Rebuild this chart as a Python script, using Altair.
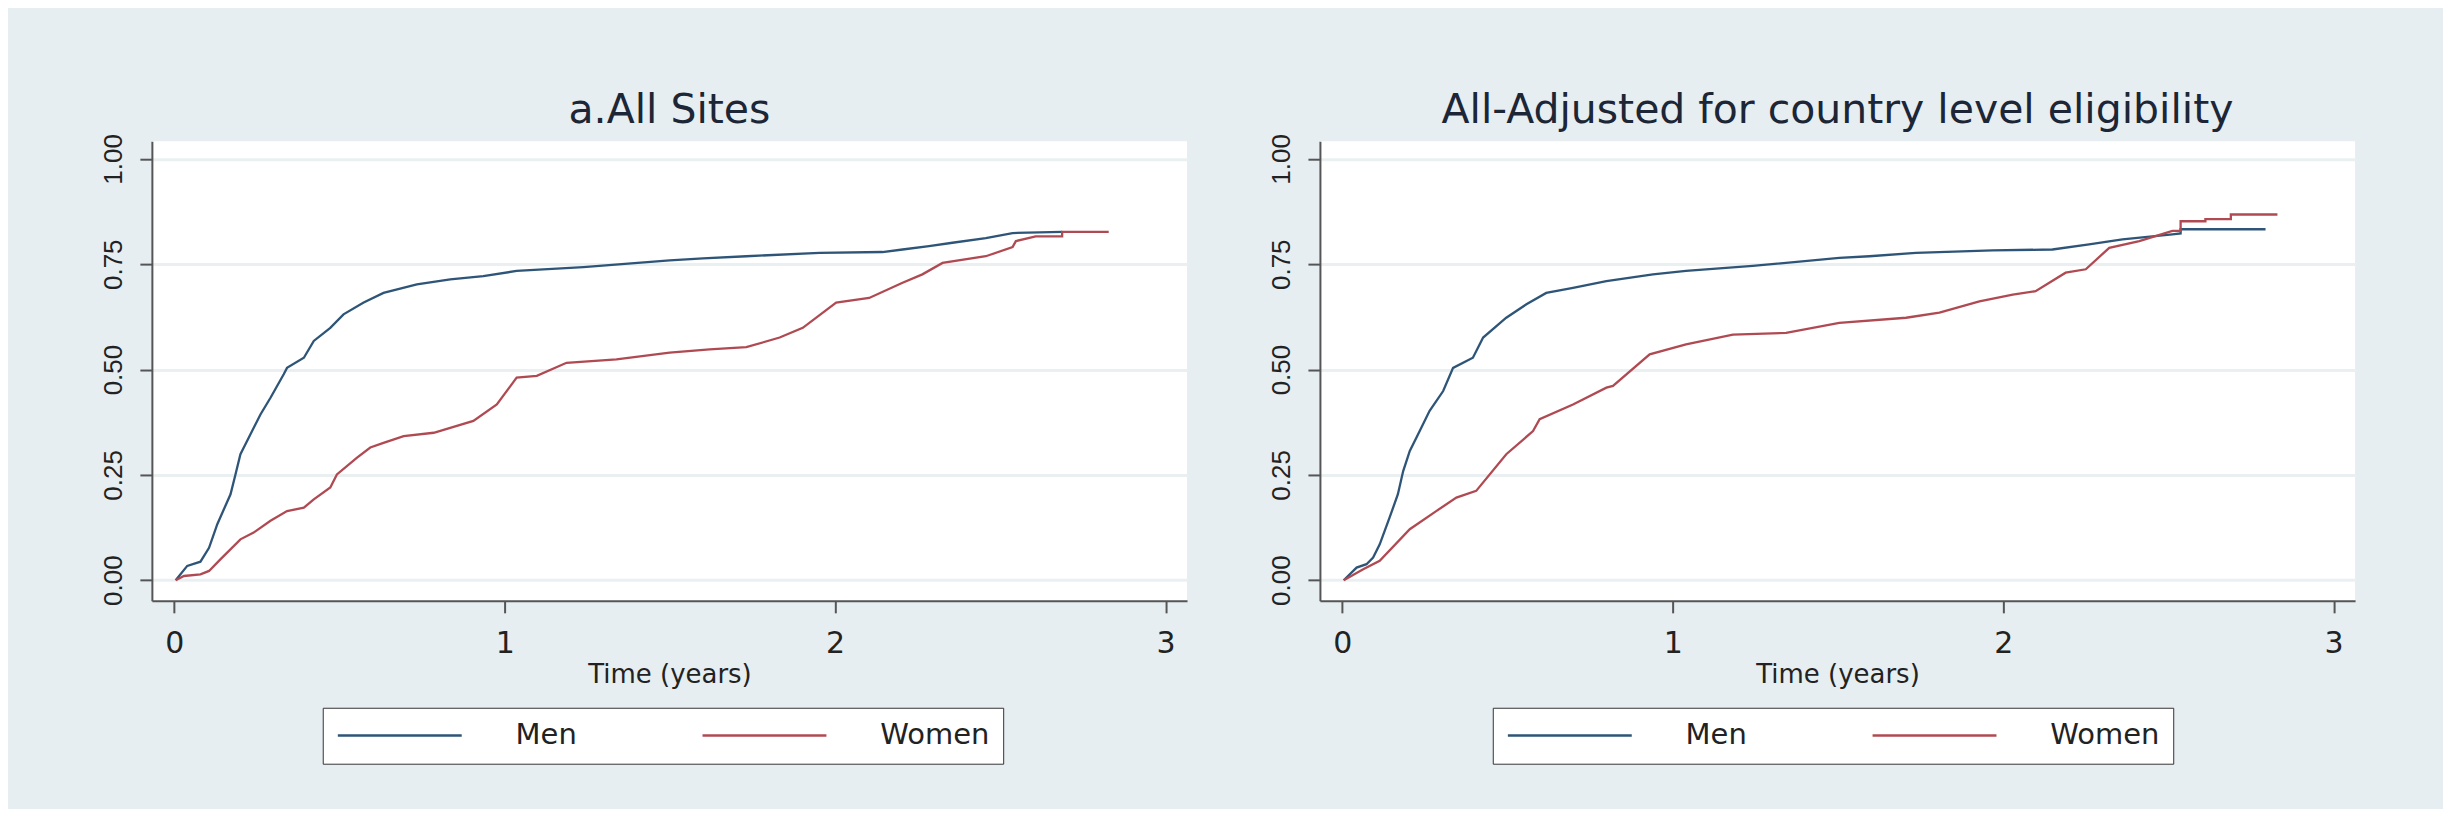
import altair as alt
import pandas as pd

SEXES = ["Men", "Women"]
COLORS = ["#2E5578", "#B04A52"]
TITLES = ["a.All Sites", "All-Adjusted for country level eligibility"]
X_TICKS = [0, 1, 2, 3]
Y_TICKS = [0.0, 0.25, 0.5, 0.75, 1.0]

# Panel a: All Sites
a_men_t = [0.004, 0.039, 0.079, 0.105, 0.130, 0.170, 0.185, 0.200, 0.230, 0.261, 0.291, 0.331, 0.341,
           0.392, 0.422, 0.472, 0.512, 0.573, 0.633, 0.734, 0.835, 0.935, 1.036, 1.238, 1.499, 1.600,
           1.731, 1.953, 2.143, 2.204, 2.284, 2.355, 2.456, 2.537, 2.687]
a_men_v = [0.000, 0.034, 0.044, 0.077, 0.133, 0.204, 0.251, 0.299, 0.346, 0.394, 0.433, 0.489, 0.504,
           0.528, 0.568, 0.599, 0.631, 0.659, 0.682, 0.702, 0.714, 0.722, 0.734, 0.743, 0.759, 0.764,
           0.769, 0.777, 0.779, 0.785, 0.793, 0.801, 0.812, 0.824, 0.827]
a_wom_t = [0.004, 0.029, 0.079, 0.105, 0.140, 0.200, 0.240, 0.291, 0.341, 0.392, 0.422, 0.472, 0.492,
           0.553, 0.593, 0.633, 0.694, 0.785, 0.905, 0.976, 1.036, 1.097, 1.187, 1.338, 1.499, 1.620,
           1.731, 1.832, 1.902, 2.003, 2.103, 2.204, 2.264, 2.325, 2.456, 2.537, 2.547, 2.607, 2.687,
           2.687, 2.828]
a_wom_v = [0.000, 0.010, 0.014, 0.022, 0.050, 0.097, 0.113, 0.141, 0.164, 0.172, 0.192, 0.220, 0.251,
           0.291, 0.315, 0.326, 0.342, 0.350, 0.378, 0.417, 0.481, 0.485, 0.516, 0.524, 0.540, 0.548,
           0.553, 0.576, 0.599, 0.659, 0.670, 0.706, 0.726, 0.753, 0.769, 0.791, 0.805, 0.816, 0.816,
           0.827, 0.827]

# Panel b: All - adjusted for country level eligibility
b_men_t = [0.004, 0.043, 0.073, 0.093, 0.113, 0.143, 0.168, 0.184, 0.204, 0.234, 0.264, 0.305, 0.335,
           0.395, 0.426, 0.496, 0.557, 0.617, 0.698, 0.799, 0.940, 1.040, 1.242, 1.504, 1.595, 1.736,
           1.968, 2.149, 2.260, 2.361, 2.512, 2.537, 2.537, 2.794]
b_men_v = [0.000, 0.030, 0.038, 0.054, 0.085, 0.149, 0.204, 0.259, 0.307, 0.354, 0.402, 0.449, 0.504,
           0.528, 0.576, 0.623, 0.655, 0.682, 0.694, 0.710, 0.726, 0.734, 0.746, 0.765, 0.769, 0.777,
           0.783, 0.785, 0.797, 0.809, 0.821, 0.823, 0.833, 0.833]
b_wom_t = [0.004, 0.063, 0.113, 0.204, 0.284, 0.345, 0.405, 0.496, 0.577, 0.597, 0.698, 0.799, 0.819,
           0.930, 1.040, 1.182, 1.343, 1.504, 1.706, 1.807, 1.928, 2.029, 2.098, 2.189, 2.250, 2.321,
           2.412, 2.512, 2.537, 2.537, 2.612, 2.612, 2.689, 2.689, 2.830]
b_wom_v = [0.000, 0.026, 0.046, 0.121, 0.164, 0.196, 0.212, 0.299, 0.354, 0.382, 0.417, 0.457, 0.461,
           0.536, 0.560, 0.583, 0.587, 0.611, 0.623, 0.635, 0.662, 0.678, 0.686, 0.730, 0.738, 0.789,
           0.805, 0.829, 0.829, 0.852, 0.852, 0.857, 0.857, 0.868, 0.868]

PANELS = [
    (TITLES[0], [(SEXES[0], a_men_t, a_men_v), (SEXES[1], a_wom_t, a_wom_v)]),
    (TITLES[1], [(SEXES[0], b_men_t, b_men_v), (SEXES[1], b_wom_t, b_wom_v)]),
]

FONT = "DejaVu Sans"
AXIS_C = "#555555"
TEXT_C = "#222222"
# legend line sample: a long stroke drawn to the right of the symbol anchor
LEGEND_LINE = "M-1,0H9"


def make_panel(title, series, legend_x):
    rows = []
    k = 0
    for sex, ts, vs in series:
        for t, v in zip(ts, vs):
            rows.append({"t": t, "v": v, "sex": sex, "i": k})
            k += 1
    df = pd.DataFrame(rows)
    return (
        alt.Chart(df)
        .mark_line(strokeWidth=2.3, interpolate="linear")
        .encode(
            x=alt.X(
                "t:Q",
                scale=alt.Scale(domain=[-0.068, 3.065], nice=False, zero=False),
                axis=alt.Axis(
                    values=X_TICKS, format="d", title="Time (years)", grid=False,
                    domainColor=AXIS_C, domainWidth=2, tickColor=AXIS_C, tickWidth=2,
                    tickSize=12, labelFont=FONT, labelFontSize=30, labelColor=TEXT_C,
                    labelPadding=16, labelFlush=False, titleFont=FONT, titleFontSize=26,
                    titleFontWeight="normal", titleColor=TEXT_C, titlePadding=3,
                ),
            ),
            y=alt.Y(
                "v:Q",
                scale=alt.Scale(domain=[-0.049, 1.042], nice=False, zero=False),
                axis=alt.Axis(
                    values=Y_TICKS, format=".2f", title=None, grid=True,
                    gridColor="#EAF0F2", gridWidth=3, domainColor=AXIS_C, domainWidth=2,
                    tickColor=AXIS_C, tickWidth=2, tickSize=12, labelAngle=270,
                    labelAlign="center", labelBaseline="alphabetic", labelPadding=18,
                    labelFont="Liberation Sans", labelFontSize=26, labelColor=TEXT_C,
                    labelFlush=False,
                ),
            ),
            color=alt.Color(
                "sex:N",
                scale=alt.Scale(domain=SEXES, range=COLORS),
                legend=alt.Legend(
                    orient="none", legendX=legend_x, legendY=567, direction="horizontal",
                    title=None, symbolType=LEGEND_LINE, symbolSize=615,
                    symbolStrokeWidth=2.5, labelFont=FONT, labelFontSize=29,
                    labelColor=TEXT_C, labelOffset=151, columnPadding=120, padding=13,
                    strokeColor="#333333", fillColor="white", cornerRadius=0,
                ),
            ),
            order=alt.Order("i:Q"),
        )
        .properties(
            width=1036,
            height=460,
            title=alt.TitleParams(
                title, font=FONT, fontSize=41, fontWeight="normal", color="#1c2636",
                anchor="middle", frame="group", offset=-30, baseline="alphabetic",
            ),
        )
    )


left = make_panel(PANELS[0][0], PANELS[0][1], 171)
right = make_panel(PANELS[1][0], PANELS[1][1], 173)

chart = (
    alt.HConcatChart(hconcat=[left, right], spacing=133, bounds="flush")
    .resolve_scale(color="independent")
    .resolve_legend(color="independent")
    .properties(
        background="#E6EEF2",
        padding={"left": 92, "top": 81, "right": 88, "bottom": 44},
    )
    .configure_view(stroke=None, fill="white")
)

chart.save("out.html", embed_options={"renderer": "svg", "actions": False})
